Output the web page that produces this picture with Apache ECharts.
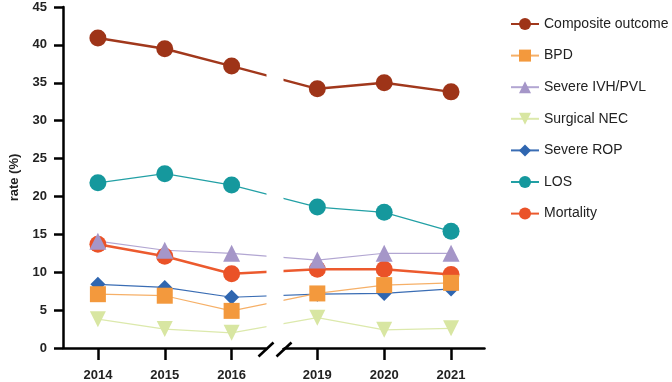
<!DOCTYPE html>
<html>
<head>
<meta charset="utf-8">
<script src="https://cdn.jsdelivr.net/npm/echarts@6.0.0/dist/echarts.min.js"></script>
<style>
  html, body { margin: 0; padding: 0; background: #fff; }
  #chart { width: 672px; height: 382px; }
</style>
</head>
<body>
<div id="chart"></div>
<script>
  // years on the x axis (2017-2018 are skipped by an axis break)
  var years = [2014, 2015, 2016, 2019, 2020, 2021];

  // rates (%)
  var composite = [40.9, 39.5, 37.2, 34.2, 35.0, 33.8];
  var bpd = [7.1, 6.9, 4.9, 7.2, 8.3, 8.6];
  var ivh = [14.1, 12.9, 12.5, 11.6, 12.5, 12.5];
  var nec = [3.8, 2.5, 2.0, 4.0, 2.4, 2.6];
  var rop = [8.4, 8.0, 6.7, 7.1, 7.2, 7.8];
  var los = [21.8, 23.0, 21.5, 18.6, 17.9, 15.4];
  var mortality = [13.7, 12.1, 9.8, 10.4, 10.4, 9.7];

  var yTicks = [0, 5, 10, 15, 20, 25, 30, 35, 40, 45];
  var legendNames = ['Composite outcome', 'BPD', 'Severe IVH/PVL', 'Surgical NEC', 'Severe ROP', 'LOS', 'Mortality'];

  var chart = echarts.init(document.getElementById('chart'))

  function pairs(vals) {
    return years.map(function (y, i) { return [y, vals[i]] })
  }

  function lineSeries(name, vals, color, lineColor, symbol, size, width) {
    return {
      name: name,
      type: 'line',
      data: pairs(vals),
      symbol: symbol,
      symbolSize: size,
      showSymbol: true,
      lineStyle: { color: lineColor, width: width },
      itemStyle: { color: color, opacity: 1 },
      emphasis: { disabled: true },
      animation: false
    }
  }

  var font = 'Liberation Sans, Arial, Helvetica, sans-serif'

  // the "//" marks on the broken x axis
  function slash(x) {
    return {
      type: 'line',
      z: 200,
      shape: { x1: x - 7.5, y1: 356.5, x2: x + 7.5, y2: 342.5 },
      style: { stroke: '#000', lineWidth: 2.6 }
    }
  }

  var option = {
    animation: false,
    grid: { left: 62, right: 188, top: 7, bottom: 33 },
    legend: {
      orient: 'vertical',
      left: 505,
      top: 12,
      itemWidth: 28,
      itemHeight: 15,
      itemGap: 17.6,
      textStyle: { fontFamily: font, fontSize: 14, color: '#222' },
      data: legendNames
    },
    xAxis: {
      type: 'value',
      min: 2013.478,
      max: 2021.493,
      breaks: [{ start: 2016.52, end: 2018.49, gap: '4%' }],
      breakArea: {
        show: true,
        itemStyle: { color: '#fff', borderColor: '#fff', borderWidth: 0, opacity: 1 },
        zigzagAmplitude: 0,
        expandOnClick: false
      },
      splitLine: { show: false },
      axisLine: { lineStyle: { color: '#000', width: 2.5 } },
      axisTick: { customValues: years, length: 12, lineStyle: { color: '#000', width: 2.5 } },
      axisLabel: {
        customValues: years,
        margin: 21,
        fontFamily: font,
        fontWeight: 'bold',
        fontSize: 13,
        color: '#222',
        formatter: function (v) { return String(v) }
      }
    },
    yAxis: {
      type: 'value',
      min: 0,
      max: 45,
      interval: 5,
      name: 'rate (%)',
      nameLocation: 'middle',
      nameGap: 42,
      nameTextStyle: { fontFamily: font, fontWeight: 'bold', fontSize: 13, color: '#222' },
      splitLine: { show: false },
      axisLine: { show: true, lineStyle: { color: '#000', width: 2.5 } },
      axisTick: { show: true, length: 9, lineStyle: { color: '#000', width: 2.5 } },
      axisLabel: {
        margin: 16,
        fontFamily: font,
        fontWeight: 'bold',
        fontSize: 13,
        color: '#222',
        customValues: yTicks
      }
    },
    graphic: [slash(266), slash(284)],
    // drawn last-to-first so the earlier series sit on top
    series: [
      lineSeries('Mortality', mortality, '#EA5228', '#EC5A2E', 'circle', 17, 2.5),
      lineSeries('LOS', los, '#15989D', '#22A0A5', 'circle', 17, 1.2),
      lineSeries('Severe ROP', rop, '#2F66B0', '#3A6DB4', 'diamond', 15, 1.2),
      lineSeries('Surgical NEC', nec, '#D8E6A2', '#DCE9AC', 'path://M0,0 L10,0 L5,9 Z', 16, 1.2),
      lineSeries('Severe IVH/PVL', ivh, '#A596C8', '#B2A6D2', 'triangle', 17, 1.2),
      lineSeries('BPD', bpd, '#F3993D', '#F6B068', 'rect', 16, 1.2),
      lineSeries('Composite outcome', composite, '#9E3418', '#A1381C', 'circle', 17, 2.5)
    ]
  };

  chart.setOption(option)
</script>
</body>
</html>
